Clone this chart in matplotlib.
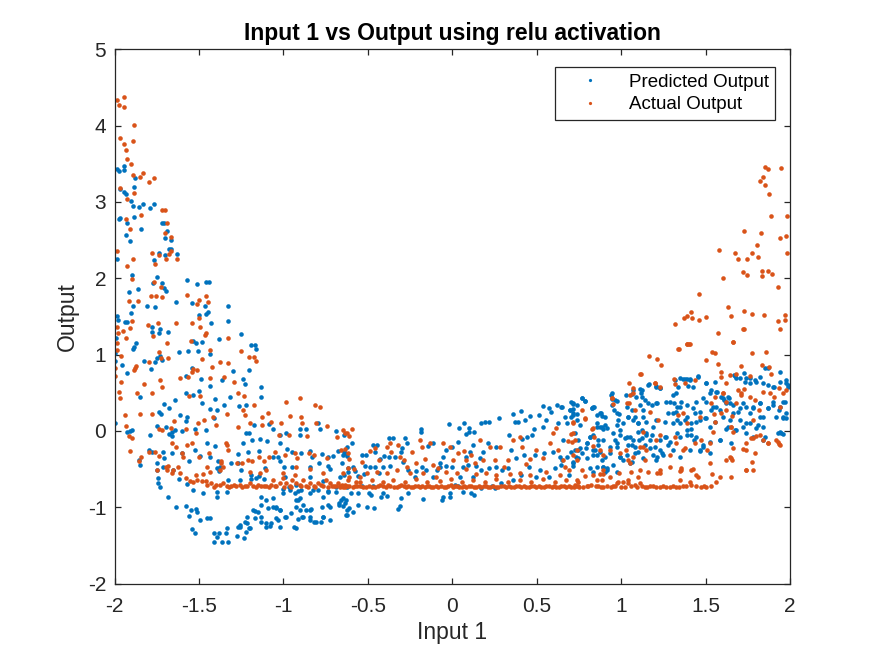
import matplotlib
matplotlib.use("Agg")
import matplotlib.pyplot as plt
import numpy as np

plt.rcParams['font.family'] = ['Liberation Sans', 'DejaVu Sans']
plt.rcParams['axes.unicode_minus'] = False

# points, (Input 1, Output)
# predicted output (blue)
pred_top_left = [
    (-1.988, 3.428), (-1.976, 3.402), (-1.946, 3.476), (-1.946, 3.415), (-1.881, 3.319),
    (-1.887, 3.192), (-1.966, 3.166), (-1.944, 3.135), (-1.932, 3.104), (-1.901, 3.013),
    (-1.889, 2.943), (-1.854, 2.938), (-1.832, 2.978), (-1.791, 2.925), (-1.767, 2.969),
    (-1.976, 2.781), (-1.968, 2.790), (-1.887, 2.803), (-1.925, 2.720), (-1.844, 2.641),
    (-1.718, 2.720), (-1.706, 2.720), (-1.930, 2.563), (-1.907, 2.493), (-1.690, 2.619),
    (-1.704, 2.532), (-1.668, 2.497), (-1.676, 2.379), (-1.663, 2.383), (-1.702, 2.305),
    (-1.735, 2.327), (-1.631, 2.318), (-1.765, 2.239), (-1.988, 2.248),
]
pred_left = [
    (-1.897, 2.048), (-1.751, 2.013), (-1.771, 1.934), (-1.718, 1.943), (-1.706, 1.869),
    (-1.570, 1.978), (-1.513, 1.921), (-1.456, 1.947), (-1.442, 1.947), (-1.862, 1.856),
    (-1.698, 1.838), (-1.915, 1.825), (-1.889, 1.637), (-1.808, 1.633), (-1.761, 1.624),
    (-1.637, 1.685), (-1.542, 1.676), (-1.466, 1.637), (-1.448, 1.563), (-1.501, 1.523),
    (-1.456, 1.532), (-1.330, 1.637), (-1.905, 1.550), (-1.988, 1.510), (-1.980, 1.454),
    (-1.936, 1.432), (-1.925, 1.427), (-1.430, 1.419), (-1.326, 1.445), (-1.781, 1.366),
    (-1.732, 1.340), (-1.777, 1.296), (-1.735, 1.279), (-1.686, 1.292), (-1.249, 1.266),
    (-1.990, 1.218), (-1.383, 1.200), (-1.533, 1.178), (-1.519, 1.148), (-1.483, 1.169),
    (-1.875, 1.148), (-1.883, 1.095), (-1.893, 1.069), (-1.192, 1.126), (-1.168, 1.121),
    (-1.164, 1.078), (-1.621, 1.038), (-1.566, 1.047), (-1.505, 1.047), (-1.998, 1.025),
    (-1.436, 1.012), (-1.730, 0.986), (-1.749, 0.960), (-1.716, 0.929), (-1.824, 0.920),
    (-1.997, 0.920), (-1.761, 0.903), (-1.954, 0.859), (-1.540, 0.820), (-1.783, 0.807),
    (-1.296, 0.789), (-1.202, 0.798), (-1.927, 0.754), (-1.574, 0.724), (-1.489, 0.684),
    (-1.239, 0.676), (-1.363, 0.667), (-1.229, 0.610), (-1.436, 0.588), (-1.131, 0.571),
    (-1.501, 0.523), (-1.578, 0.501), (-1.538, 0.466), (-1.850, 0.448), (-1.318, 0.440),
    (-1.131, 0.444), (-1.404, 0.413), (-1.641, 0.405), (-1.483, 0.370), (-1.706, 0.352),
    (-1.353, 0.335), (-1.263, 0.330), (-1.219, 0.339), (-1.678, 0.295), (-1.432, 0.282),
    (-1.393, 0.274), (-1.735, 0.252), (-1.724, 0.221), (-1.613, 0.204), (-1.568, 0.186),
    (-1.410, 0.173), (-1.574, 0.134), (-1.997, 0.108), (-1.747, 0.068), (-1.698, 0.055),
    (-1.525, 0.020), (-1.456, 0.011), (-1.643, 0.011), (-1.909, 0.003), (-1.897, 0.007),
    (-1.598, -0.006), (-1.657, -0.010), (-1.927, -0.019), (-1.680, -0.041), (-1.661, -0.063),
    (-1.789, -0.054), (-1.219, -0.024), (-1.204, -0.024), (-1.174, 0.077), (-1.085, 0.090),
    (-1.062, 0.020), (-1.018, -0.163), (-1.022, -0.054), (-0.987, -0.024), (-0.900, 0.020),
    (-0.869, 0.020), (-0.902, -0.054), (-0.798, 0.099), (-0.786, 0.020), (-0.687, 0.003),
    (-0.642, -0.050), (-0.678, -0.264), (-0.642, -0.273), (-1.795, -0.251), (-1.781, -0.273),
    (-1.858, -0.382), (-1.852, -0.448), (-1.712, -0.273), (-1.706, -0.360), (-1.657, -0.286),
    (-1.603, -0.290), (-1.523, -0.251), (-1.495, -0.329), (-1.450, -0.163), (-1.408, -0.198),
    (-1.436, -0.338), (-1.387, -0.391), (-1.312, -0.417), (-1.271, -0.308), (-1.269, -0.426),
    (-1.241, -0.163), (-1.209, -0.273), (-1.184, -0.120), (-1.137, -0.111), (-1.095, -0.128),
    (-1.144, -0.268), (-1.062, -0.338), (-1.032, -0.338), (-0.979, -0.242), (-0.949, -0.273),
    (-0.894, -0.295), (-0.845, -0.260), (-0.831, -0.338), (-0.792, -0.417), (-0.774, -0.303),
    (-0.737, -0.347), (-0.705, -0.329), (-0.654, -0.417), (-0.648, -0.316), (-1.749, -0.426),
    (-1.747, -0.513), (-1.712, -0.469), (-1.653, -0.513), (-1.562, -0.395), (-1.377, -0.469),
    (-1.379, -0.526), (-1.249, -0.517), (-1.107, -0.491), (-1.018, -0.391), (-0.997, -0.469),
    (-0.845, -0.469), (-0.737, -0.461), (-0.727, -0.504),
]
pred_low_left = [
    (-1.745, -0.622), (-1.741, -0.679), (-1.732, -0.740), (-1.619, -0.635), (-1.682, -0.863),
    (-1.568, -0.697), (-1.479, -0.819), (-1.538, -0.775), (-1.395, -0.801), (-1.391, -0.863),
    (-1.334, -0.797), (-1.393, -0.491), (-1.328, -0.644), (-1.257, -0.644), (-1.194, -0.635),
    (-1.144, -0.592), (-1.117, -0.635), (-1.003, -0.767), (-0.967, -0.732), (-0.926, -0.710),
    (-0.914, -0.784), (-0.894, -0.775), (-0.845, -0.819), (-0.796, -0.775), (-0.737, -0.784),
    (-0.687, -0.797), (-0.658, -0.906), (-0.628, -0.906), (-0.947, -0.469), (-0.989, -0.600),
    (-0.845, -0.600), (-0.766, -0.653), (-0.664, -0.600), (-0.615, -0.544), (-1.637, -1.002),
    (-1.574, -0.985), (-1.548, -1.037), (-1.519, -1.029), (-1.558, -1.116), (-1.511, -1.059),
    (-1.495, -1.169), (-1.452, -1.147), (-1.436, -1.147), (-1.542, -1.286), (-1.521, -1.334),
    (-1.412, -1.343), (-1.383, -1.334), (-1.391, -1.387), (-1.332, -1.278), (-1.338, -1.343),
    (-1.412, -1.453), (-1.361, -1.453), (-1.330, -1.453), (-1.272, -1.374), (-1.267, -1.256),
    (-1.233, -1.400), (-1.259, -1.234), (-1.215, -1.212), (-1.204, -1.278), (-1.170, -1.046),
    (-1.131, -0.972), (-1.089, -1.015), (-1.062, -1.002), (-1.042, -1.015), (-1.018, -1.037),
    (-0.987, -1.125), (-0.924, -0.994), (-0.914, -0.906), (-0.904, -1.037), (-0.865, -1.037),
    (-0.837, -1.029), (-0.772, -0.994), (-0.737, -0.972), (-0.668, -0.950), (-0.624, -1.037),
    (-1.166, -1.147), (-1.131, -1.190), (-1.101, -1.256), (-1.074, -1.212), (-1.042, -1.147),
    (-1.018, -1.256), (-0.940, -1.256), (-0.914, -1.160), (-0.892, -1.125), (-0.845, -1.125),
    (-0.816, -1.190), (-0.780, -1.190), (-0.766, -1.125), (-1.215, -1.125), (-0.628, -1.103),
    (-0.727, -1.002),
    (-1.190, -0.578), (-1.160, -0.622), (-1.131, -0.862), (-1.101, -0.906), (-1.062, -0.884),
    (-1.042, -0.993), (-1.022, -1.037), (-1.003, -0.818), (-0.963, -0.775), (-0.934, -0.818),
    (-0.924, -0.906), (-0.904, -0.884), (-0.884, -0.971), (-0.845, -1.037), (-0.825, -0.775),
    (-0.766, -0.862), (-0.737, -0.796), (-0.687, -0.731), (-0.648, -0.884), (-0.638, -0.949),
    (-0.609, -1.015), (-1.131, -1.124), (-1.101, -1.212), (-1.081, -1.246), (-1.032, -1.168),
    (-0.993, -1.124), (-0.953, -1.080), (-0.924, -1.277), (-0.884, -1.124), (-0.845, -1.168),
    (-0.806, -1.190), (-0.766, -1.124), (-0.727, -1.168), (-0.668, -0.971), (-1.180, -1.037),
    (-1.150, -1.059), (-1.200, -1.277), (-1.229, -1.190), (-1.259, -1.255), (-1.219, -1.321),
]
pred_middle = [
    (-0.594, -0.163), (-0.622, -0.207), (-0.635, -0.286), (-0.626, -0.329), (-0.535, -0.321),
    (-0.511, -0.316), (-0.468, -0.190), (-0.448, -0.190), (-0.460, -0.281), (-0.431, -0.364),
    (-0.405, -0.325), (-0.373, -0.098), (-0.354, -0.098), (-0.279, -0.098), (-0.269, -0.163),
    (-0.299, -0.220), (-0.186, 0.020), (-0.186, -0.010), (-0.117, -0.163), (-0.143, -0.198),
    (-0.017, 0.086), (0.070, 0.099), (0.042, 0.042), (0.097, 0.042), (0.099, -0.019),
    (0.131, -0.019), (0.084, -0.041), (0.170, 0.108), (0.194, 0.116), (0.218, 0.116),
    (0.275, 0.173), (0.359, 0.226), (0.371, 0.121), (0.409, 0.265), (0.389, 0.121),
    (0.428, 0.143), (0.458, 0.199), (0.513, 0.212), (0.537, 0.326), (0.570, 0.300),
    (0.586, 0.252), (0.619, 0.339), (0.645, 0.317), (0.698, 0.278), (0.714, 0.357),
    (0.738, 0.217), (0.704, 0.186), (0.625, 0.099), (0.556, 0.143), (0.537, 0.055),
    (0.482, 0.020), (0.470, -0.054), (0.442, -0.076), (0.415, -0.111), (0.336, -0.054),
    (0.350, -0.251), (0.261, -0.207), (0.210, -0.163), (0.182, -0.273), (0.162, -0.360),
    (0.123, -0.185), (0.103, -0.273), (0.080, -0.338), (0.034, -0.141), (0.001, -0.207),
    (-0.035, -0.251), (-0.054, -0.338), (-0.074, -0.426), (-0.074, -0.478), (-0.090, -0.513),
    (-0.117, -0.600), (-0.153, -0.513), (-0.178, -0.478), (-0.212, -0.522), (-0.220, -0.600),
    (-0.261, -0.513), (-0.291, -0.404), (-0.306, -0.273), (-0.340, -0.347), (-0.375, -0.347),
    (-0.370, -0.461), (-0.409, -0.478), (-0.433, -0.557), (-0.458, -0.478), (-0.488, -0.469),
    (-0.517, -0.461), (-0.523, -0.565), (-0.557, -0.592), (-0.586, -0.478), (-0.576, -0.526),
    (-0.620, -0.491), (-0.639, -0.579), (-0.649, -0.723), (-0.626, -0.740), (-0.598, -0.819),
    (-0.557, -0.810), (-0.537, -0.723), (-0.496, -0.819), (-0.484, -0.841), (-0.468, -0.723),
    (-0.413, -0.819), (-0.421, -0.871), (-0.464, -1.007), (-0.503, -0.994), (-0.559, -0.972),
    (-0.586, -1.059), (-0.622, -1.099), (-0.645, -0.985), (-0.389, -0.854), (-0.320, -1.020),
    (-0.310, -0.985), (-0.306, -0.884), (-0.261, -0.810), (-0.176, -0.889), (-0.062, -0.906),
    (-0.054, -0.871), (-0.015, -0.819), (-0.011, -0.863), (0.015, -0.710), (0.034, -0.723),
    (0.064, -0.797), (0.113, -0.819), (0.129, -0.841), (0.172, -0.753), (0.233, -0.723),
    (0.251, -0.753), (0.290, -0.688), (0.359, -0.644), (0.409, -0.579), (0.454, -0.478),
    (0.497, -0.609), (0.517, -0.513), (0.572, -0.600), (0.606, -0.491), (0.645, -0.447),
    (0.690, -0.579), (0.714, -0.461), (0.734, -0.338), (0.704, -0.273), (0.639, -0.338),
    (0.596, -0.273), (0.545, -0.294), (0.489, -0.312), (0.424, -0.321), (0.379, -0.360),
    (0.332, -0.491), (0.296, -0.513), (0.261, -0.478), (0.218, -0.491), (0.172, -0.513),
    (0.143, -0.461), (0.093, -0.443), (0.064, -0.478), (0.001, -0.469), (-0.035, -0.461),
    (0.048, -0.609), (0.123, -0.600),
]
pred_right = [
    (0.701, 0.383), (0.717, 0.282), (0.713, 0.230), (0.736, 0.339), (0.766, 0.426),
    (0.786, 0.396), (0.825, 0.295), (0.839, 0.317), (0.878, 0.230), (0.884, 0.195),
    (0.855, 0.098), (0.874, 0.055), (0.904, 0.077), (0.894, 0.020), (0.864, -0.120),
    (0.815, -0.076), (0.796, -0.164), (0.792, -0.229), (0.766, -0.295), (0.717, -0.404),
    (0.746, -0.251), (0.845, -0.251), (0.859, -0.317), (0.884, -0.382), (0.894, -0.470),
    (0.914, -0.491), (0.904, -0.535), (0.943, 0.492), (0.943, 0.413), (0.977, 0.396),
    (0.957, 0.273), (0.989, 0.221), (1.032, 0.317), (1.042, 0.186), (1.012, 0.098),
    (0.993, 0.011), (1.036, -0.076), (0.963, -0.120), (0.973, -0.207), (0.993, -0.339),
    (0.953, -0.448), (0.973, -0.535), (1.071, 0.536), (1.111, 0.544), (1.119, 0.492),
    (1.140, 0.404), (1.166, 0.610), (1.205, 0.588), (1.229, 0.557), (1.213, 0.361),
    (1.130, 0.273), (1.081, 0.177), (1.101, 0.098), (1.126, 0.011), (1.150, -0.054),
    (1.107, -0.120), (1.067, -0.186), (1.083, -0.295), (1.052, -0.426), (1.170, -0.120),
    (1.199, -0.207), (1.213, -0.339), (1.249, -0.317), (1.258, -0.076), (1.308, 0.098),
    (1.292, 0.383), (1.323, 0.492), (1.347, 0.688), (1.367, 0.675), (1.387, 0.675),
    (1.406, 0.667), (1.455, 0.719), (1.505, 0.632), (1.524, 0.492), (1.568, 0.514),
    (1.593, 0.448), (1.607, 0.404), (1.623, 0.361), (1.639, 0.426), (1.668, 0.732),
    (1.682, 0.688), (1.727, 0.754), (1.741, 0.688), (1.761, 0.623), (1.800, 0.645),
    (1.849, 0.820), (1.871, 0.820), (1.903, 0.579), (1.942, 0.776), (1.978, 0.667),
    (1.987, 0.601), (1.958, 0.383), (1.934, 0.273), (1.899, 0.383), (1.869, 0.295),
    (1.840, 0.186), (1.810, 0.077), (1.761, 0.107), (1.721, 0.046), (1.682, 0.011),
    (1.623, 0.020), (1.647, 0.142), (1.692, 0.251), (1.737, 0.317), (1.780, 0.295),
    (1.824, 0.361), (1.564, 0.317), (1.534, 0.273), (1.495, 0.164), (1.465, 0.251),
    (1.446, 0.120), (1.416, 0.020), (1.387, -0.054), (1.430, -0.120), (1.465, -0.251),
    (1.524, -0.295), (1.485, -0.207), (1.584, -0.120), (1.377, 0.142), (1.347, 0.317),
    (1.323, 0.251), (1.278, 0.230), (1.347, -0.339), (1.958, 0.177), (1.978, 0.168),
    (1.928, -0.033), (1.958, -0.041), (1.849, -0.076),
]
pred_right_band = [
    (1.318, 0.667), (1.377, 0.676), (1.406, 0.676), (1.456, 0.711), (1.505, 0.623),
    (1.554, 0.645), (1.564, 0.514), (1.603, 0.427), (1.619, 0.383), (1.633, 0.448),
    (1.643, 0.361), (1.672, 0.719), (1.702, 0.689), (1.731, 0.645), (1.761, 0.689),
    (1.790, 0.667), (1.820, 0.711), (1.840, 0.623), (1.869, 0.601), (1.899, 0.580),
    (1.938, 0.645), (1.978, 0.623), (1.987, 0.580), (1.160, 0.601), (1.209, 0.580),
    (1.229, 0.558), (1.337, 0.580), (1.396, 0.588), (1.426, 0.580), (1.534, 0.536),
    (0.766, 0.427), (0.786, 0.396), (0.717, 0.370), (0.648, 0.309), (0.697, 0.274),
    (0.825, 0.295), (0.835, 0.317), (0.937, 0.470), (0.943, 0.339), (0.963, 0.405),
    (0.973, 0.230), (1.028, 0.470), (1.062, 0.483), (1.087, 0.448), (1.121, 0.536),
    (1.121, 0.448), (1.111, 0.339), (1.160, 0.361), (1.180, 0.339), (1.209, 0.361),
    (1.268, 0.383), (1.308, 0.470), (1.312, 0.361), (1.328, 0.317), (1.357, 0.383),
    (1.387, 0.339), (1.426, 0.295), (1.446, 0.383), (1.485, 0.427), (1.505, 0.383),
    (1.544, 0.317), (1.584, 0.274), (1.662, 0.339), (1.702, 0.295), (1.722, 0.361),
    (1.781, 0.317), (1.820, 0.361), (1.869, 0.295), (1.899, 0.339), (1.938, 0.317),
    (1.968, 0.383), (0.668, 0.186), (0.677, 0.099), (0.717, 0.208), (0.737, 0.143),
    (0.756, 0.077), (0.855, 0.208), (0.874, 0.230), (0.904, 0.186), (0.855, 0.055),
    (0.884, 0.055), (0.914, 0.033), (0.973, 0.077), (0.983, 0.143), (1.042, 0.186),
    (1.062, 0.274), (1.071, 0.143), (1.101, 0.099), (1.130, 0.186), (1.150, 0.121),
    (1.190, 0.055), (1.209, 0.143), (1.259, 0.121), (1.308, 0.230), (1.328, 0.143),
    (1.347, 0.099), (1.387, 0.186), (1.416, 0.099), (1.436, 0.230), (1.465, 0.143),
    (1.505, 0.164), (1.525, 0.055), (1.554, 0.121), (1.603, 0.186), (1.662, 0.230),
    (1.702, 0.143), (1.741, 0.099), (1.761, 0.230), (1.820, 0.186), (1.840, 0.055),
    (1.919, 0.186), (1.958, 0.164), (1.978, 0.230), (1.800, 0.033), (1.633, 0.055),
    (0.658, -0.120), (0.727, -0.032), (0.746, -0.120), (0.796, -0.163), (0.815, -0.076),
    (0.835, -0.054), (0.865, -0.185), (0.894, -0.120), (0.953, -0.032), (0.993, -0.054),
    (1.022, -0.098), (1.052, -0.076), (1.071, -0.120), (1.101, -0.010), (1.121, -0.098),
    (1.150, -0.032), (1.180, -0.054), (1.229, -0.120), (1.268, -0.076), (1.288, -0.142),
    (1.328, -0.032), (1.347, -0.076), (1.387, 0.011), (1.416, -0.054), (1.446, -0.076),
    (1.485, -0.185), (1.525, -0.142), (1.584, -0.120), (1.653, -0.163), (1.672, 0.011),
    (1.741, -0.032), (1.781, -0.076), (1.840, -0.120), (1.938, -0.010), (1.948, -0.032),
    (0.727, -0.251), (0.756, -0.229), (0.835, -0.251), (0.934, -0.207), (0.973, -0.163),
    (1.042, -0.185), (1.081, -0.207), (1.140, -0.185), (1.170, -0.229), (1.229, -0.251),
    (1.278, -0.185), (1.308, -0.251), (1.406, -0.251), (1.465, -0.260), (0.648, -0.382),
    (0.677, -0.338), (0.717, -0.426), (0.746, -0.360), (0.796, -0.360), (0.835, -0.316),
    (0.874, -0.273), (0.904, -0.338), (0.934, -0.295), (0.993, -0.338), (1.032, -0.316),
    (1.101, -0.273), (1.130, -0.360), (1.190, -0.316), (1.209, -0.382), (1.239, -0.295),
    (0.855, -0.469), (0.894, -0.478), (0.914, -0.513), (0.835, -0.535), (0.815, -0.491),
    (1.012, -0.382), (1.062, -0.404),
]

# actual output (orange)
act_top_left = [
    (-1.984, 4.337), (-1.944, 4.372), (-1.976, 4.276), (-1.942, 4.249), (-1.883, 4.013),
    (-1.968, 3.839), (-1.889, 3.795), (-1.942, 3.756), (-1.934, 3.686), (-1.927, 3.563),
    (-1.901, 3.493), (-1.889, 3.358), (-1.852, 3.323), (-1.832, 3.380), (-1.769, 3.319),
    (-1.793, 3.257), (-1.970, 3.187), (-1.885, 3.122), (-1.927, 3.039), (-1.844, 2.834),
    (-1.718, 2.895), (-1.702, 2.890), (-1.930, 2.777), (-1.688, 2.720), (-1.907, 2.646),
    (-1.704, 2.593), (-1.668, 2.536), (-1.986, 2.353), (-1.889, 2.248), (-1.925, 2.165),
    (-1.777, 2.335), (-1.763, 2.187), (-1.735, 2.309), (-1.696, 2.252), (-1.678, 2.313),
    (-1.668, 2.361), (-1.633, 2.257),
]
act_left = [
    (-1.897, 1.987), (-1.765, 1.956), (-1.722, 1.890), (-1.757, 1.768), (-1.785, 1.768),
    (-1.862, 1.707), (-1.917, 1.703), (-1.572, 1.781), (-1.501, 1.716), (-1.456, 1.768),
    (-1.444, 1.685), (-1.509, 1.659), (-1.718, 1.759), (-1.986, 1.357), (-1.978, 1.287),
    (-1.950, 1.314), (-1.895, 1.445), (-1.907, 1.344), (-1.932, 1.218), (-1.804, 1.388),
    (-1.771, 1.244), (-1.743, 1.410), (-1.688, 1.156), (-1.639, 1.410), (-1.542, 1.410),
    (-1.499, 1.475), (-1.493, 1.366), (-1.466, 1.257), (-1.456, 1.279), (-1.326, 1.218),
    (-1.548, 1.183), (-1.436, 1.060), (-1.984, 1.156), (-1.986, 1.060), (-1.960, 0.982),
    (-1.998, 0.820), (-1.998, 0.719), (-1.879, 0.820), (-1.871, 0.855), (-1.885, 0.798),
    (-1.795, 0.907), (-1.739, 1.038), (-1.726, 0.951), (-1.684, 0.951), (-1.613, 0.689),
    (-1.564, 0.702), (-1.535, 0.815), (-1.511, 0.798), (-1.544, 0.776), (-1.424, 0.833),
    (-1.485, 0.938), (-1.375, 0.907), (-1.330, 0.885), (-1.249, 1.051), (-1.174, 0.964),
    (-1.160, 0.920), (-1.202, 0.964), (-1.962, 0.641), (-1.974, 0.514), (-1.966, 0.427),
    (-1.867, 0.492), (-1.826, 0.614), (-1.781, 0.492), (-1.730, 0.667), (-1.720, 0.580),
    (-1.560, 0.457), (-1.495, 0.457), (-1.436, 0.698), (-1.351, 0.711), (-1.290, 0.636),
    (-1.267, 0.501), (-1.235, 0.457), (-1.239, 0.274), (-1.334, 0.221), (-1.174, 0.344),
    (-1.129, 0.186), (-0.985, 0.383), (-0.900, 0.427), (-0.810, 0.339), (-0.786, 0.309),
    (-1.089, 0.230), (-1.938, 0.204), (-1.934, 0.068), (-1.913, -0.067), (-1.899, -0.098),
    (-1.850, 0.221), (-1.779, 0.221), (-1.739, 0.029), (-1.720, 0.011), (-1.665, 0.038),
    (-1.645, 0.134), (-1.578, 0.029), (-1.515, -0.024), (-1.503, 0.099), (-1.468, 0.143),
    (-1.401, 0.073), (-1.416, 0.186), (-1.338, -0.163), (-1.269, 0.055), (-1.227, 0.212),
    (-1.200, 0.108), (-1.129, 0.073), (-1.012, 0.099), (-1.074, 0.112), (-1.028, -0.059),
    (-0.965, -0.054), (-0.961, 0.199), (-0.898, 0.186), (-0.892, 0.099), (-0.863, -0.063),
    (-0.808, 0.099), (-0.743, 0.064), (-0.682, -0.076), (-0.636, -0.032), (-0.613, -0.067),
    (-1.907, -0.268), (-1.846, -0.338), (-1.856, -0.391), (-1.797, -0.273), (-1.761, -0.273),
    (-1.737, -0.329), (-1.657, -0.155), (-1.637, -0.207), (-1.570, -0.181), (-1.542, -0.155),
    (-1.602, -0.295), (-1.596, -0.338), (-1.499, -0.347), (-1.442, -0.286), (-1.367, -0.391),
    (-1.371, -0.426), (-1.332, -0.181), (-1.326, -0.251), (-1.357, -0.469), (-1.272, -0.417),
    (-1.247, -0.426), (-1.209, -0.382), (-1.184, -0.399), (-1.144, -0.338), (-1.115, -0.391),
    (-1.085, -0.338), (-1.052, -0.273), (-0.989, -0.316), (-0.934, -0.295), (-0.918, -0.360),
    (-0.849, -0.286), (-0.821, -0.321), (-0.741, -0.360), (-0.660, -0.251), (-0.620, -0.286),
    (-1.747, -0.513), (-1.696, -0.469), (-1.688, -0.513), (-1.623, -0.469), (-1.661, -0.557),
    (-1.454, -0.469),
]
act_floor_left = [
    (-1.574, -0.622), (-1.554, -0.653), (-1.535, -0.666), (-1.511, -0.644), (-1.485, -0.653),
    (-1.456, -0.657), (-1.426, -0.688), (-1.401, -0.710), (-1.377, -0.710), (-1.357, -0.688),
    (-1.334, -0.723), (-1.308, -0.723), (-1.278, -0.723), (-1.255, -0.714), (-1.229, -0.723),
    (-1.200, -0.688), (-1.180, -0.723), (-1.150, -0.714), (-1.131, -0.723), (-1.101, -0.718),
    (-1.072, -0.710), (-1.062, -0.644), (-1.042, -0.723), (-1.018, -0.688), (-1.003, -0.622),
    (-0.983, -0.688), (-0.963, -0.723), (-0.947, -0.644), (-0.934, -0.579), (-0.924, -0.688),
    (-0.904, -0.710), (-0.884, -0.644), (-0.869, -0.723), (-0.845, -0.688), (-0.821, -0.718),
    (-0.796, -0.688), (-0.766, -0.723), (-0.747, -0.644), (-0.727, -0.688), (-0.703, -0.723),
    (-0.678, -0.688), (-0.652, -0.710), (-0.624, -0.723), (-0.613, -0.600), (-0.648, -0.557),
    (-0.766, -0.557), (-0.845, -0.504), (-0.924, -0.469), (-1.003, -0.548), (-1.101, -0.513),
    (-1.141, -0.557), (-1.200, -0.535), (-1.377, -0.513), (-1.436, -0.535), (-1.475, -0.565),
    (-1.515, -0.579), (-1.613, -0.557), (-1.653, -0.513), (-1.682, -0.461),
    (-1.450, -0.710), (-1.410, -0.730), (-1.320, -0.730), (-1.290, -0.715), (-1.245, -0.730),
    (-1.215, -0.726), (-1.165, -0.735), (-1.115, -0.728), (-1.085, -0.735), (-1.050, -0.716),
    (-0.995, -0.730), (-0.955, -0.735), (-0.895, -0.728), (-0.855, -0.737), (-0.810, -0.730),
    (-0.780, -0.715), (-0.735, -0.735), (-0.715, -0.728), (-0.690, -0.717), (-0.665, -0.736),
    (-0.635, -0.729),
]
act_middle = [
    (-0.649, 0.012), (-0.622, -0.032), (-0.594, 0.029), (-0.637, -0.233), (-0.614, -0.364),
    (-0.580, -0.504), (-0.618, -0.487), (-0.570, -0.666), (-0.537, -0.404), (-0.488, -0.259),
    (-0.458, -0.229), (-0.433, -0.382), (-0.389, -0.207), (-0.370, -0.163), (-0.360, -0.273),
    (-0.320, -0.185), (-0.310, -0.338), (-0.287, -0.382), (-0.271, -0.478), (-0.251, -0.557),
    (-0.236, -0.273), (-0.192, -0.120), (-0.182, -0.207), (-0.163, -0.373), (-0.133, -0.163),
    (-0.113, -0.447), (-0.082, -0.491), (-0.054, -0.163), (-0.015, -0.207), (0.005, -0.382),
    (0.034, -0.294), (0.068, -0.259), (0.084, -0.382), (0.113, -0.316), (0.133, -0.426),
    (0.162, -0.120), (0.182, -0.382), (0.222, -0.216), (0.253, -0.382), (0.281, -0.207),
    (0.304, -0.469), (0.332, -0.382), (0.359, -0.120), (0.399, -0.085), (0.411, -0.207),
    (0.434, -0.434), (0.458, -0.364), (0.497, -0.251), (0.537, -0.360), (0.576, -0.163),
    (0.596, -0.032), (0.616, 0.033), (0.625, -0.251), (0.655, -0.382), (0.686, -0.128),
    (0.714, -0.032), (0.738, -0.251), (0.694, -0.513), (0.635, -0.579), (0.556, -0.535),
    (0.458, -0.579), (0.399, -0.548), (0.340, -0.565), (0.261, -0.579), (0.202, -0.557),
    (0.143, -0.565), (0.084, -0.504), (0.025, -0.557), (-0.035, -0.539), (-0.094, -0.600),
    (-0.172, -0.557), (-0.212, -0.417), (-0.330, -0.513), (-0.389, -0.557), (-0.448, -0.535),
    (-0.507, -0.557), (-0.547, -0.600),
]
act_floor_middle = [
    (-0.665, -0.723), (-0.633, -0.710), (-0.590, -0.731), (-0.563, -0.723), (-0.527, -0.740),
    (-0.492, -0.723), (-0.456, -0.731), (-0.429, -0.714), (-0.393, -0.731), (-0.366, -0.723),
    (-0.330, -0.731), (-0.301, -0.710), (-0.275, -0.731), (-0.247, -0.740), (-0.222, -0.723),
    (-0.192, -0.731), (-0.163, -0.740), (-0.137, -0.723), (-0.113, -0.731), (-0.082, -0.740),
    (-0.050, -0.731), (-0.023, -0.723), (0.005, -0.740), (0.028, -0.723), (0.056, -0.731),
    (0.084, -0.740), (0.111, -0.723), (0.143, -0.731), (0.172, -0.740), (0.202, -0.723),
    (0.225, -0.740), (0.257, -0.731), (0.288, -0.723), (0.320, -0.740), (0.350, -0.731),
    (0.379, -0.723), (0.409, -0.740), (0.438, -0.731), (0.468, -0.723), (0.497, -0.740),
    (0.527, -0.731), (0.556, -0.723), (0.588, -0.740), (0.616, -0.731), (0.645, -0.723),
    (0.675, -0.740), (0.704, -0.731), (0.734, -0.723),
    (-0.650, -0.735), (-0.610, -0.720), (-0.575, -0.728), (-0.545, -0.716), (-0.510, -0.730),
    (-0.475, -0.737), (-0.440, -0.722), (-0.410, -0.728), (-0.380, -0.715), (-0.345, -0.734),
    (-0.315, -0.726), (-0.288, -0.718), (-0.260, -0.727), (-0.235, -0.733), (-0.205, -0.716),
    (-0.178, -0.728), (-0.150, -0.721), (-0.125, -0.736), (-0.097, -0.719), (-0.065, -0.727),
    (-0.037, -0.733), (-0.010, -0.715), (0.017, -0.728), (0.042, -0.736), (0.070, -0.718),
    (0.097, -0.727), (0.127, -0.733), (0.157, -0.716), (0.187, -0.727), (0.213, -0.731),
    (0.241, -0.718), (0.272, -0.736), (0.304, -0.725), (0.335, -0.719), (0.365, -0.738),
    (0.394, -0.727), (0.423, -0.716), (0.453, -0.733), (0.482, -0.728), (0.512, -0.718),
    (0.541, -0.735), (0.572, -0.726), (0.602, -0.717), (0.630, -0.737), (0.660, -0.728),
    (0.690, -0.719), (0.719, -0.735),
    (-0.616, -0.644), (-0.547, -0.666), (-0.478, -0.644), (-0.409, -0.666), (-0.350, -0.644),
    (-0.281, -0.666), (-0.216, -0.635), (-0.149, -0.666), (-0.074, -0.653), (-0.009, -0.635),
    (0.056, -0.666), (0.123, -0.644), (0.192, -0.666), (0.261, -0.635), (0.330, -0.666),
    (0.399, -0.644), (0.468, -0.666), (0.537, -0.635), (0.606, -0.666), (0.675, -0.644),
    (0.744, -0.666),
]
act_right = [
    (1.341, 1.069), (1.390, 1.139), (1.406, 1.139), (1.662, 1.169), (1.166, 0.986),
    (1.213, 0.938), (1.233, 0.863), (1.115, 0.741), (1.505, 0.929), (1.540, 1.038),
    (1.558, 1.025), (1.574, 0.872), (1.593, 0.776), (1.708, 0.855), (1.777, 1.016),
    (1.859, 1.029), (1.834, 0.863), (1.875, 0.833), (1.885, 0.741), (1.761, 0.719),
    (1.682, 0.741), (1.623, 0.623), (1.603, 0.492), (1.593, 0.710), (1.312, 0.675),
    (1.320, 0.614), (1.377, 0.632), (1.436, 0.667), (1.199, 0.632), (1.229, 0.579),
    (1.048, 0.623), (1.071, 0.492), (1.044, 0.369), (0.943, 0.426), (0.949, 0.352),
    (0.766, 0.273), (0.784, 0.155), (0.717, 0.120), (0.701, -0.041), (0.727, -0.120),
    (0.839, -0.076), (0.825, 0.020), (0.874, -0.251), (0.835, -0.199), (0.894, -0.317),
    (0.933, -0.251), (0.993, -0.295), (1.028, -0.251), (1.052, -0.426), (1.111, -0.207),
    (1.150, -0.251), (1.140, -0.382), (1.219, 0.142), (1.209, -0.120), (1.318, -0.076),
    (1.323, -0.164), (1.377, -0.229), (1.436, -0.164), (1.475, -0.120), (1.509, -0.251),
    (1.524, -0.155), (1.544, -0.011), (1.554, 0.120), (1.548, 0.221), (1.593, 0.230),
    (1.623, 0.273), (1.652, 0.055), (1.658, 0.195), (1.682, 0.369), (1.712, 0.492),
    (1.725, 0.553), (1.761, 0.448), (1.790, 0.404), (1.816, 0.273), (1.840, 0.514),
    (1.879, 0.492), (1.903, 0.439), (1.934, 0.557), (1.958, 0.492), (1.978, 0.536),
    (1.938, 0.317), (1.918, -0.120), (1.934, -0.172), (1.867, -0.155), (1.800, -0.068),
    (1.771, -0.098), (1.741, -0.251), (1.790, -0.295), (1.777, -0.404), (1.741, -0.513),
    (1.643, -0.339), (1.658, -0.382), (1.524, -0.417), (1.536, -0.566), (1.442, -0.579),
    (1.426, -0.505), (1.455, -0.601), (1.357, -0.491), (1.347, -0.522), (1.288, -0.317),
    (1.288, -0.470), (1.229, -0.513), (1.213, -0.557), (1.160, -0.535), (1.111, -0.513),
    (1.101, -0.601), (1.061, -0.535), (1.042, -0.644), (0.989, -0.557), (0.983, -0.666),
    (0.933, -0.601), (0.894, -0.566), (0.884, -0.644), (0.855, -0.644), (0.835, -0.579),
    (0.784, -0.592), (0.766, -0.513), (0.736, -0.382), (0.717, -0.317), (0.736, -0.644),
    (1.564, -0.666), (1.587, -0.601), (1.652, -0.609), (1.406, -0.666), (1.347, -0.644),
    (1.111, 0.746), (1.199, 0.623), (1.071, 0.558), (1.052, 0.470), (0.943, 0.427),
    (1.032, 0.361), (1.081, 0.274), (1.170, 0.252), (1.130, -0.010), (1.229, -0.054),
    (1.130, -0.207), (1.071, -0.338), (1.042, -0.382), (0.894, -0.513), (0.874, -0.565),
    (0.668, -0.469), (0.707, -0.142), (0.717, 0.099), (0.786, 0.164), (0.835, 0.033),
    (1.367, 0.230), (1.337, 0.208), (1.387, 0.099), (1.465, 0.186), (1.534, 0.361),
    (1.554, 0.448), (1.603, 0.492), (1.643, 0.732), (1.692, 0.536), (1.712, 0.470),
    (1.623, 0.383), (1.653, 0.055), (1.662, -0.010), (1.781, 0.143), (1.741, -0.163),
    (1.781, -0.098), (1.820, -0.054), (1.840, -0.120), (1.869, -0.163), (1.928, -0.142),
    (1.938, -0.185), (1.662, -0.229), (1.722, -0.242), (1.623, -0.382), (1.653, -0.360),
    (1.781, -0.513), (1.741, -0.513), (1.367, -0.251), (1.416, -0.513), (1.357, -0.513),
    (1.229, -0.557),
]
act_floor_right = [
    (0.727, -0.710), (0.752, -0.732), (0.796, -0.723), (0.819, -0.710), (0.864, -0.719),
    (0.894, -0.732), (0.953, -0.723), (0.973, -0.688), (1.012, -0.666), (1.042, -0.688),
    (1.091, -0.732), (1.111, -0.688), (1.140, -0.732), (1.170, -0.723), (1.209, -0.732),
    (1.249, -0.723), (1.288, -0.732), (1.323, -0.732), (1.367, -0.723), (1.416, -0.714),
    (1.475, -0.732), (1.505, -0.732),
    (0.745, -0.722), (0.775, -0.735), (0.805, -0.716), (0.850, -0.728), (0.880, -0.738),
    (0.915, -0.720), (0.940, -0.733), (0.965, -0.717), (1.000, -0.729), (1.025, -0.737),
    (1.060, -0.721), (1.080, -0.712), (1.125, -0.728), (1.155, -0.736), (1.190, -0.719),
    (1.230, -0.730), (1.265, -0.738), (1.305, -0.722), (1.340, -0.735), (1.385, -0.728),
    (1.445, -0.727), (1.490, -0.718), (1.530, -0.725),
]
act_top_right = [
    (1.851, 3.463), (1.871, 3.436), (1.946, 3.449), (1.842, 3.323), (1.824, 3.275),
    (1.853, 3.222), (1.877, 3.109), (1.885, 2.811), (1.983, 2.816), (1.727, 2.619),
    (1.826, 2.593), (1.938, 2.532), (1.979, 2.549), (1.582, 2.370), (1.672, 2.326),
    (1.692, 2.256), (1.747, 2.248), (1.773, 2.335), (1.802, 2.431), (1.812, 2.278),
    (1.983, 2.326), (1.721, 2.077), (1.743, 2.038), (1.834, 2.090), (1.834, 2.033),
    (1.871, 2.090), (1.891, 2.051), (1.605, 1.999), (1.928, 1.885), (1.459, 1.793),
    (1.633, 1.627), (1.652, 1.505), (1.727, 1.575), (1.777, 1.531), (1.847, 1.513),
    (1.968, 1.518), (1.970, 1.448), (1.928, 1.439), (1.938, 1.334), (1.721, 1.339),
    (1.729, 1.339), (1.572, 1.282), (1.664, 1.168), (1.316, 1.400), (1.371, 1.483),
    (1.392, 1.500), (1.414, 1.562), (1.422, 1.483), (1.459, 1.448), (1.503, 1.487),
    (1.387, 1.133), (1.404, 1.138), (1.339, 1.068),
]

x_ticks = [-2, -1.5, -1, -0.5, 0, 0.5, 1, 1.5, 2]
x_tick_labels = ['-2', '-1.5', '-1', '-0.5', '0', '0.5', '1', '1.5', '2']
y_ticks = [-2, -1, 0, 1, 2, 3, 4, 5]

pred = np.array(pred_top_left + pred_left + pred_low_left + pred_middle
                + pred_right + pred_right_band)
act = np.array(act_top_left + act_left + act_floor_left + act_middle
               + act_floor_middle + act_right + act_floor_right + act_top_right)

blue = '#0072BD'
orange = '#D95319'
dark = '#262626'

fig = plt.figure(figsize=(8.75, 6.56), dpi=100)
ax = fig.add_axes([0.1309, 0.1105, 0.772, 0.8143])

ax.plot(pred[:, 0], pred[:, 1], 'o', color=blue, markersize=3.3, markeredgewidth=0,
        label='Predicted Output')
ax.plot(act[:, 0], act[:, 1], 'o', color=orange, markersize=3.3, markeredgewidth=0,
        label='Actual Output')

ax.set_xlim(-2, 2)
ax.set_ylim(-2, 5)
ax.set_xticks(x_ticks)
ax.set_xticklabels(x_tick_labels)
ax.set_yticks(y_ticks)
ax.set_yticklabels([str(v) for v in y_ticks])

for s in ax.spines.values():
    s.set_color(dark)
    s.set_linewidth(0.9)
ax.tick_params(direction='in', top=True, right=True, length=4.3, width=0.9,
               colors=dark, labelsize=15, pad=6)
ax.tick_params(axis='x', pad=9.5)

ax.set_xlabel('Input 1', fontsize=16.5, color=dark, labelpad=4)
ax.set_ylabel('Output', fontsize=16.5, color=dark, labelpad=6)
ax.set_title('Input 1 vs Output using relu activation', fontsize=16.5,
             fontweight='bold', color='black', pad=7)

leg = ax.legend(loc='upper right', bbox_to_anchor=(0.978, 0.967), borderaxespad=0,
                fontsize=13.5, frameon=True, fancybox=False, framealpha=1,
                edgecolor=dark, markerscale=0.7, handlelength=3.0,
                handletextpad=0.55, borderpad=0.35, labelspacing=0.3)
leg.get_frame().set_linewidth(0.9)

fig.savefig('out.png', dpi=100)
